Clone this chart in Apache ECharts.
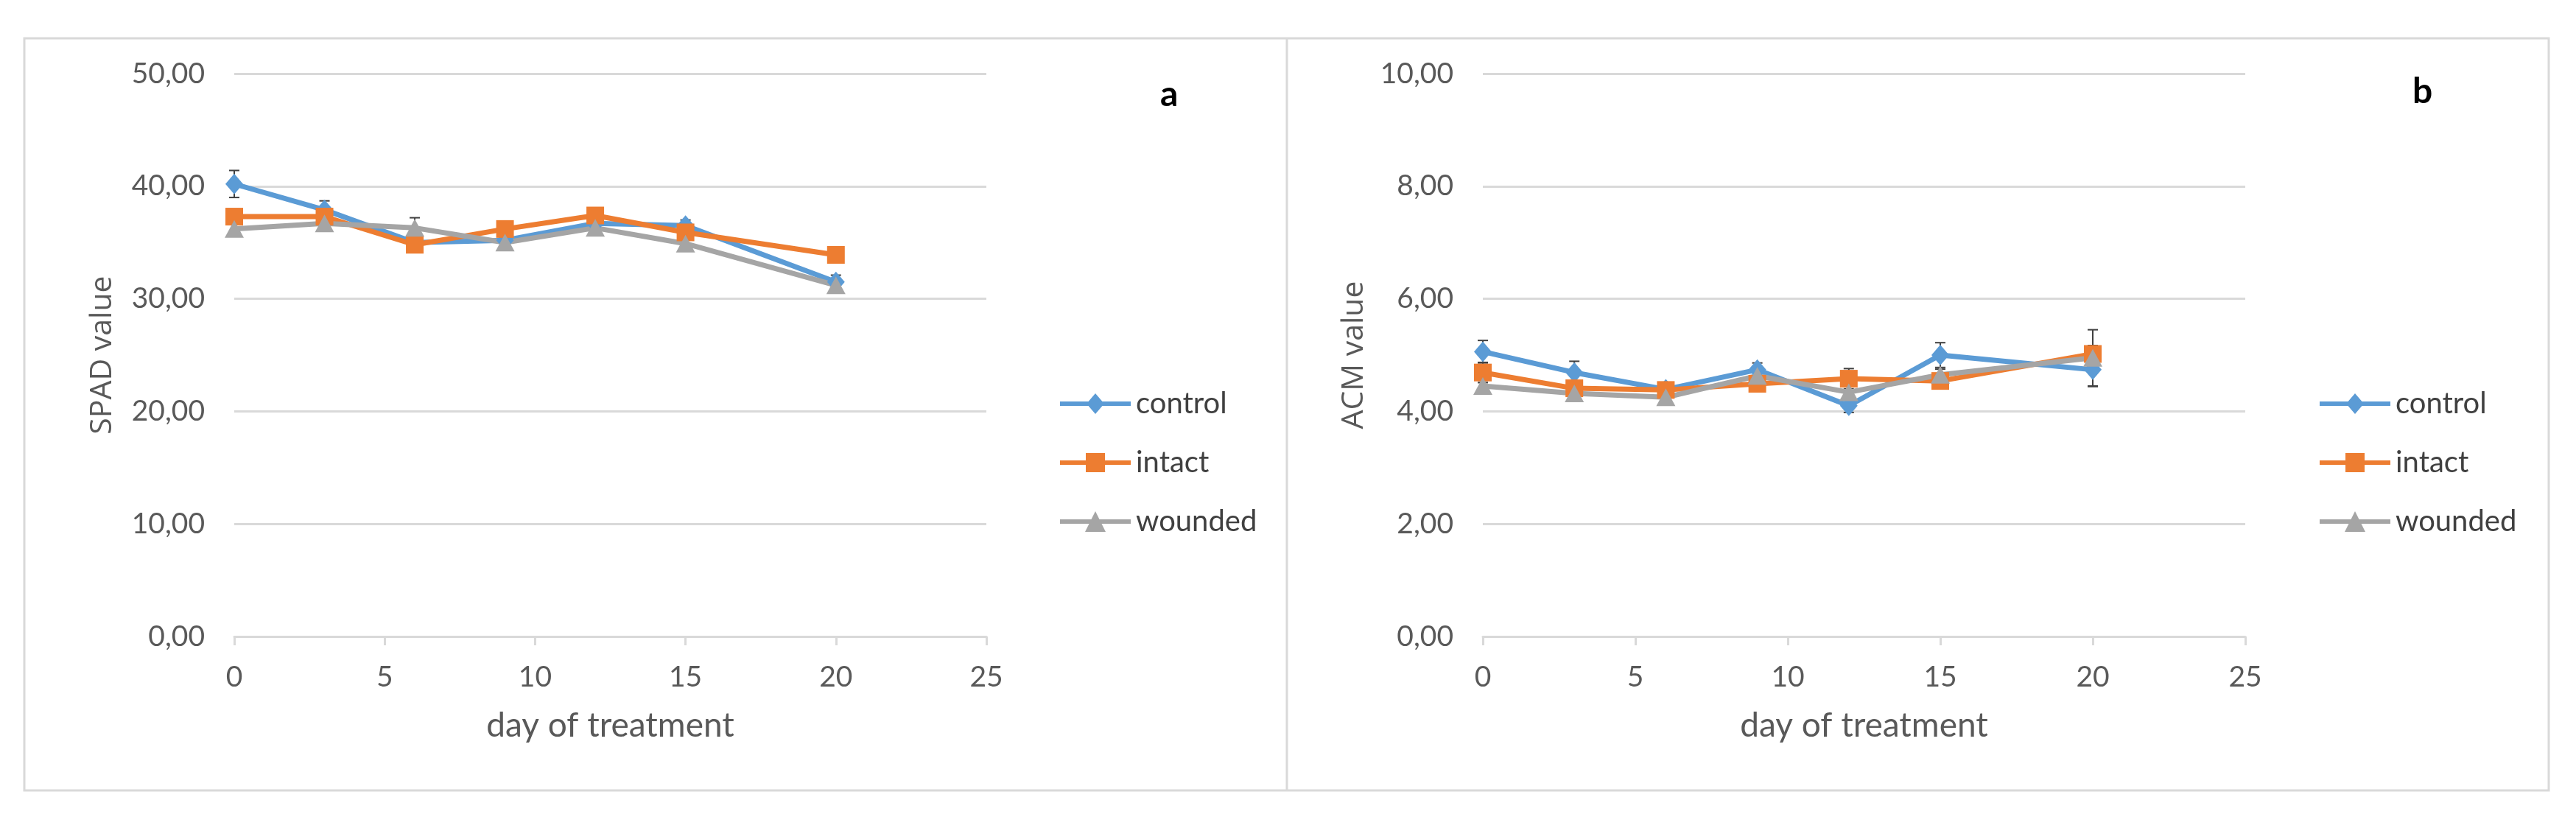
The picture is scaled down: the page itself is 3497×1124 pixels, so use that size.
<!DOCTYPE html>
<html><head><meta charset="utf-8">
<script src="https://cdn.jsdelivr.net/npm/echarts@6/dist/echarts.min.js"></script>
<style>html,body{margin:0;padding:0;background:#fff}#c{width:3497px;height:1124px}</style>
</head><body><div id="c"></div>
<script>
// ---- data ----
const days = [0, 3, 6, 9, 12, 15, 20];
const seriesNames = ['control', 'intact', 'wounded'];
const xTicks = [0, 5, 10, 15, 20, 25];

// Panel a: SPAD value
const spadControl = [40.2, 37.9, 35.0, 35.2, 36.7, 36.5, 31.5];
const spadIntact  = [37.3, 37.3, 34.8, 36.2, 37.4, 35.9, 33.9];
const spadWounded = [36.2, 36.7, 36.3, 35.0, 36.3, 34.9, 31.2];
const spadControlErr = [1.2, 0.8, 0.5, 0.4, 0.5, 0.5, 0.6];
const spadIntactErr  = [0.5, 0.5, 0.5, 0.4, 0.4, 0.4, 0.5];
const spadWoundedErr = [0.4, 0.5, 0.9, 0.4, 0.4, 0.4, 0.4];

// Panel b: ACM value
const acmControl = [5.06, 4.69, 4.39, 4.74, 4.10, 5.00, 4.74];
const acmIntact  = [4.69, 4.41, 4.38, 4.49, 4.58, 4.54, 5.02];
const acmWounded = [4.45, 4.32, 4.25, 4.63, 4.34, 4.65, 4.95];
const acmControlErr = [0.20, 0.20, 0.12, 0.12, 0.12, 0.22, 0.30];
const acmIntactErr  = [0.18, 0.10, 0.12, 0.10, 0.18, 0.10, 0.15];
const acmWoundedErr = [0.10, 0.10, 0.10, 0.10, 0.10, 0.10, 0.50];

// ---- styles ----
const colors = {control: '#5B9BD5', intact: '#ED7D31', wounded: '#A5A5A5'};
const symbols = {control: 'diamond', intact: 'rect', wounded: 'triangle'};
const symSizes = {control: [24, 28], intact: [24, 24], wounded: [26, 24]};
const legendIcons = {
  control: 'path://M0 11H96V17H0Z M48 0L60 14L48 28L36 14Z',
  intact:  'path://M0 11H96V17H0Z M35 1H61V27H35Z',
  wounded: 'path://M0 11H96V17H0Z M48 0L62 28L34 28Z'
};
const FONT = 'Lato';
const TXT = '#595959';
const GRID_C = '#d9d9d9';

function pairs(xs, ys) { return xs.map((x, i) => [x, ys[i]]); }
function triples(xs, ys, es) { return xs.map((x, i) => [x, ys[i], es[i]]); }
const fmt = v => v.toFixed(2).replace('.', ',');

function errRender(params, api) {
  const x = api.value(0), y = api.value(1), e = api.value(2);
  const t = api.coord([x, y + e]), b = api.coord([x, y - e]);
  const cw = 7;
  const st = {stroke: '#404040', lineWidth: 2};
  return {type: 'group', children: [
    {type: 'line', shape: {x1: t[0], y1: t[1], x2: b[0], y2: b[1]}, style: st},
    {type: 'line', shape: {x1: t[0] - cw, y1: t[1], x2: t[0] + cw, y2: t[1]}, style: st},
    {type: 'line', shape: {x1: b[0] - cw, y1: b[1], x2: b[0] + cw, y2: b[1]}, style: st}
  ]};
}

function lineSeries(name, vals, idx) {
  return {
    type: 'line', name: name, xAxisIndex: idx, yAxisIndex: idx,
    data: pairs(days, vals), symbol: symbols[name], symbolSize: symSizes[name],
    showAllSymbol: true, z: 3,
    lineStyle: {color: colors[name], width: 7},
    itemStyle: {color: colors[name]},
    emphasis: {disabled: true}, animation: false
  };
}
function errSeries(vals, errs, idx) {
  return {
    type: 'custom', name: 'err', xAxisIndex: idx, yAxisIndex: idx,
    data: triples(days, vals, errs), renderItem: errRender, z: 2,
    silent: true, animation: false
  };
}

function xAxis(idx) {
  return {
    type: 'value', gridIndex: idx, min: 0, max: 25, interval: 5,
    name: 'day of treatment', nameLocation: 'middle', nameGap: 98,
    nameTextStyle: {fontFamily: FONT, fontSize: 46, color: TXT},
    axisLine: {show: true, lineStyle: {color: GRID_C, width: 3}},
    axisTick: {show: true, length: 12, lineStyle: {color: GRID_C, width: 3}},
    axisLabel: {fontFamily: FONT, fontSize: 39, color: TXT, margin: 36,
      formatter: v => xTicks.includes(v) ? String(v) : ''},
    splitLine: {show: false}
  };
}
function yAxis(idx, name, max, interval, gap) {
  return {
    type: 'value', gridIndex: idx, min: 0, max: max, interval: interval,
    name: name, nameLocation: 'middle', nameGap: gap, nameRotate: 90,
    nameTextStyle: {fontFamily: 'Open Sans', fontSize: 41, color: TXT},
    axisLine: {show: false}, axisTick: {show: false},
    axisLabel: {fontFamily: FONT, fontSize: 39, color: TXT, margin: 40, formatter: fmt},
    splitLine: {show: true, lineStyle: {color: GRID_C, width: 3}}
  };
}
function legend(left) {
  return {
    data: seriesNames.map(n => ({name: n, icon: legendIcons[n]})),
    orient: 'vertical', left: left, top: 523,
    itemWidth: 96, itemHeight: 28, itemGap: 40,
    textStyle: {fontFamily: FONT, fontSize: 40, color: '#404040', padding: [0, 0, 0, 2]},
    selectedMode: false
  };
}

const chart = echarts.init(document.getElementById('c'), null, {renderer: 'canvas'});
chart.setOption({
  backgroundColor: '#ffffff',
  animation: false,
  title: [
    {text: 'a', left: 1570, top: 100, textStyle: {fontFamily: FONT, fontSize: 48, fontWeight: 'bold', color: '#000'}},
    {text: 'b', left: 3270, top: 96, textStyle: {fontFamily: FONT, fontSize: 48, fontWeight: 'bold', color: '#000'}}
  ],
  grid: [
    {left: 318, top: 100, width: 1021, height: 764},
    {left: 2013, top: 100, width: 1035, height: 764}
  ],
  xAxis: [xAxis(0), xAxis(1)],
  yAxis: [yAxis(0, 'SPAD value', 50, 10, 158), yAxis(1, 'ACM value', 10, 2, 154)],
  legend: [legend(1434), legend(3144)],
  graphic: [
    {type: 'rect', shape: {x: 33, y: 52, width: 3427, height: 1021}, style: {fill: 'none', stroke: GRID_C, lineWidth: 3}, silent: true},
    {type: 'line', shape: {x1: 1747, y1: 52, x2: 1747, y2: 1073}, style: {stroke: GRID_C, lineWidth: 3}, silent: true}
  ],
  series: [
    errSeries(spadControl, spadControlErr, 0),
    errSeries(spadIntact, spadIntactErr, 0),
    errSeries(spadWounded, spadWoundedErr, 0),
    lineSeries('control', spadControl, 0),
    lineSeries('intact', spadIntact, 0),
    lineSeries('wounded', spadWounded, 0),
    errSeries(acmControl, acmControlErr, 1),
    errSeries(acmIntact, acmIntactErr, 1),
    errSeries(acmWounded, acmWoundedErr, 1),
    lineSeries('control', acmControl, 1),
    lineSeries('intact', acmIntact, 1),
    lineSeries('wounded', acmWounded, 1)
  ]
});
</script></body></html>
